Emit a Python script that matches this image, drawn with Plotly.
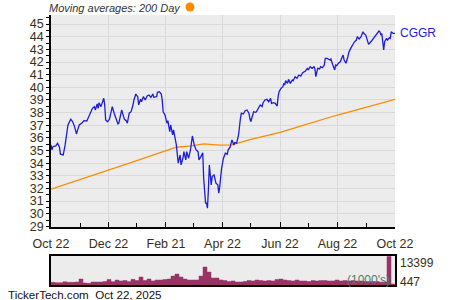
import pandas as pd
import plotly.graph_objects as go

# ---------------- data ----------------
price_dates = [
    "2024-10-22","2024-10-23","2024-10-24","2024-10-27","2024-10-29","2024-10-31","2024-11-01","2024-11-04",
    "2024-11-06","2024-11-08","2024-11-09","2024-11-12","2024-11-14","2024-11-16","2024-11-18","2024-11-19",
    "2024-11-21","2024-11-24","2024-11-26","2024-11-29","2024-12-01","2024-12-03","2024-12-05","2024-12-07",
    "2024-12-08","2024-12-10","2024-12-11","2024-12-12","2024-12-14","2024-12-17","2024-12-18","2024-12-19",
    "2024-12-21","2024-12-23","2024-12-25","2024-12-26","2024-12-28","2024-12-30","2025-01-01","2025-01-02",
    "2025-01-04","2025-01-05","2025-01-07","2025-01-08","2025-01-10","2025-01-11","2025-01-13","2025-01-15",
    "2025-01-17","2025-01-18","2025-01-20","2025-01-22","2025-01-23","2025-01-25","2025-01-26","2025-01-28",
    "2025-01-30","2025-02-01","2025-02-03","2025-02-05","2025-02-07","2025-02-08","2025-02-11","2025-02-12",
    "2025-02-14","2025-02-16","2025-02-17","2025-02-18","2025-02-20","2025-02-22","2025-02-23","2025-02-25",
    "2025-02-26","2025-02-28","2025-03-01","2025-03-03","2025-03-04","2025-03-06","2025-03-08","2025-03-09",
    "2025-03-11","2025-03-12","2025-03-14","2025-03-15","2025-03-17","2025-03-19","2025-03-20","2025-03-21",
    "2025-03-23","2025-03-25","2025-03-27","2025-03-28","2025-03-30","2025-04-01","2025-04-02","2025-04-04",
    "2025-04-05","2025-04-06","2025-04-07","2025-04-08","2025-04-10","2025-04-11","2025-04-13","2025-04-15",
    "2025-04-17","2025-04-18","2025-04-19","2025-04-21","2025-04-23","2025-04-25","2025-04-27","2025-04-28",
    "2025-04-30","2025-05-02","2025-05-04","2025-05-05","2025-05-07","2025-05-09","2025-05-11","2025-05-12",
    "2025-05-14","2025-05-16","2025-05-18","2025-05-20","2025-05-21","2025-05-22","2025-05-24","2025-05-25",
    "2025-05-27","2025-05-28","2025-05-30","2025-06-01","2025-06-03","2025-06-04","2025-06-06","2025-06-08",
    "2025-06-10","2025-06-12","2025-06-13","2025-06-15","2025-06-17","2025-06-19","2025-06-20","2025-06-21",
    "2025-06-23","2025-06-25","2025-06-26","2025-06-27","2025-06-28","2025-06-30","2025-07-01","2025-07-03",
    "2025-07-05","2025-07-06","2025-07-08","2025-07-10","2025-07-12","2025-07-14","2025-07-16","2025-07-19",
    "2025-07-21","2025-07-22","2025-07-24","2025-07-26","2025-07-28","2025-07-29","2025-07-30","2025-08-01",
    "2025-08-03","2025-08-04","2025-08-06","2025-08-08","2025-08-09","2025-08-11","2025-08-14","2025-08-15",
    "2025-08-17","2025-08-19","2025-08-20","2025-08-21","2025-08-23","2025-08-25","2025-08-27","2025-08-28",
    "2025-08-29","2025-08-31","2025-09-02","2025-09-03","2025-09-05","2025-09-07","2025-09-09","2025-09-11",
    "2025-09-12","2025-09-14","2025-09-16","2025-09-18","2025-09-19","2025-09-21","2025-09-23","2025-09-24",
    "2025-09-27","2025-09-29","2025-10-01","2025-10-03","2025-10-05","2025-10-06","2025-10-07","2025-10-08",
    "2025-10-10","2025-10-11","2025-10-13","2025-10-14","2025-10-16","2025-10-17","2025-10-18","2025-10-20",
    "2025-10-22",
]
price_values = [
    35.44, 35.05, 35.30, 35.36, 35.57, 35.26, 34.71, 34.65,
    35.44, 36.37, 37.02, 37.47, 37.28, 36.89, 36.31, 36.57,
    37.02, 37.20, 37.36, 37.34, 37.68, 38.03, 38.34, 38.47,
    38.21, 38.68, 38.34, 38.78, 38.47, 39.13, 38.60, 37.42,
    37.28, 37.47, 38.07, 38.47, 37.95, 37.42, 37.10, 37.16,
    37.81, 38.21, 37.68, 37.47, 37.34, 37.16, 37.95, 38.07,
    38.60, 39.00, 39.47, 39.26, 38.60, 39.05, 38.86, 39.26,
    39.00, 39.31, 39.39, 39.21, 39.47, 39.21, 39.26, 39.60,
    39.65, 39.47, 39.00, 38.07, 37.81, 37.16, 37.36, 36.49,
    37.02, 36.23, 36.63, 35.84, 35.44, 34.00, 34.65, 33.86,
    34.39, 34.91, 34.26, 34.91, 34.39, 35.05, 35.84, 36.15,
    35.44, 35.05, 34.91, 34.26, 34.52, 34.83, 32.81, 30.84,
    30.84, 30.44, 31.89, 33.86, 32.28, 32.94, 33.07, 32.42,
    32.28, 31.63, 32.10, 33.60, 34.39, 34.79, 34.71, 35.05,
    35.26, 35.84, 35.44, 35.63, 35.58, 36.23, 37.55, 37.95,
    37.89, 38.15, 38.21, 37.95, 37.55, 37.28, 37.81, 38.07,
    38.02, 38.07, 38.34, 38.60, 38.47, 38.78, 39.00, 39.05,
    38.86, 39.13, 38.73, 38.78, 38.73, 38.52, 39.26, 39.65,
    39.92, 40.05, 40.31, 40.18, 40.52, 40.31, 40.63, 40.31,
    40.58, 40.52, 40.84, 40.71, 40.97, 40.89, 41.15, 41.29,
    41.50, 41.37, 41.63, 41.50, 41.63, 41.50, 40.84, 41.50,
    41.45, 41.63, 41.55, 41.76, 42.29, 42.29, 42.16, 42.24,
    41.76, 41.37, 41.76, 41.71, 41.90, 42.02, 42.42, 42.55,
    42.16, 41.90, 42.42, 42.76, 43.08, 43.34, 43.60, 43.74,
    44.00, 43.82, 44.00, 44.39, 44.26, 44.13, 43.74, 43.40,
    43.66, 43.87, 44.13, 44.26, 44.45, 44.39, 44.13, 44.26,
    42.95, 43.60, 43.87, 43.74, 43.92, 43.87, 44.39, 44.26,
    44.26,
]

ma_dates = ["2024-10-22", "2024-12-21", "2025-01-14", "2025-02-18", "2025-03-04", "2025-03-20",
            "2025-04-02", "2025-04-19", "2025-05-02", "2025-05-20", "2025-06-23", "2025-07-19",
            "2025-08-21", "2025-10-22"]
ma_values = [31.94, 33.47, 34.02, 34.91, 35.26, 35.36, 35.52, 35.42, 35.44, 35.84, 36.45,
             37.04, 37.79, 39.05]

volume_values = [
    1250, 1100, 1100, 1500, 1250, 1250, 1400, 2800, 950, 800,
    1400, 1400, 1400, 1600, 2600, 1550, 2300, 1900, 2100, 1700,
    2650, 2100, 3750, 2100, 2800, 1900, 2350, 2350, 2600, 2800,
    4200, 5150, 3750, 2800, 2350, 2350, 2350, 4200, 8450, 6100,
    3300, 3300, 2350, 2100, 1650, 1900, 1400, 1400, 1650, 2100,
    1900, 2350, 2100, 1900, 2100, 1900, 2600, 2800, 2350, 2100,
    1900, 2350, 1900, 1900, 1650, 2100, 1900, 2100, 2100, 1900,
    1900, 2350, 1900, 2100, 1900, 2100, 1900, 1900, 1650, 1650,
    1650, 1650, 1400, 1400, 13399, 500,
]

tick_dates = ["2024-10-22", "2024-12-22", "2025-02-21", "2025-04-22", "2025-06-22",
              "2025-08-22", "2025-10-22"]
tick_labels = ["Oct 22", "Dec 22", "Feb 21", "Apr 22", "Jun 22", "Aug 22", "Oct 22"]
minor_dates = ["2024-11-22", "2025-01-21", "2025-03-22", "2025-05-22", "2025-07-22", "2025-09-22"]

start, end = "2024-10-22", "2025-10-22"
vol_edges = pd.date_range(start, end, periods=len(volume_values) + 1)
vol_x = list(vol_edges)
vol_y = volume_values + [volume_values[-1]]

# ---------------- figure ----------------
W, H = 450, 300
def px(x):
    return x / W
def py(y):
    return 1 - y / H

FONT = "Liberation Sans, Arial, sans-serif"
LABEL = "#3a2f12"

fig = go.Figure()
fig.add_trace(go.Scatter(x=ma_dates, y=ma_values, mode="lines",
                         line=dict(color="#ff8c00", width=1.3), xaxis="x", yaxis="y",
                         hoverinfo="skip"))
fig.add_trace(go.Scatter(x=pd.to_datetime(price_dates), y=price_values, mode="lines",
                         line=dict(color="#1c1cdc", width=1.3), xaxis="x", yaxis="y"))
fig.add_trace(go.Scatter(x=vol_x, y=vol_y, mode="lines", line=dict(color="#993366", width=0.5, shape="hv"),
                         fill="tozeroy", fillcolor="#993366", xaxis="x2", yaxis="y2"))

x_dom = [px(51), px(395)]
fig.update_layout(
    width=W, height=H, margin=dict(l=0, r=0, t=0, b=0, autoexpand=False),
    paper_bgcolor="white", plot_bgcolor="#ececec",
    showlegend=False,
    font=dict(family=FONT, size=12, color=LABEL),
    xaxis=dict(domain=x_dom, anchor="y", range=[start, end], type="date", automargin=False,
               tickvals=tick_dates, ticktext=tick_labels, ticks="inside", ticklen=5,
               ticklabelstandoff=4,
               tickcolor="black", showgrid=True, gridcolor="#d9d9d9", gridwidth=1,
               showline=True, linecolor="black", linewidth=1.5, zeroline=False,
               tickfont=dict(size=12.5, color=LABEL),
               minor=dict(tickvals=minor_dates, ticks="inside", ticklen=4, tickcolor="black",
                          showgrid=False)),
    yaxis=dict(domain=[py(227), py(15)], anchor="x", range=[28.95, 45.72], automargin=False,
               dtick=1, tick0=29, ticks="outside", ticklen=3, tickcolor="black",
               showgrid=True, gridcolor="#d9d9d9", gridwidth=1,
               showline=True, linecolor="black", linewidth=1.5, zeroline=False,
               tickfont=dict(size=12.5, color=LABEL),
               minor=dict(dtick=0.5, tick0=28.5, ticks="outside", ticklen=3,
                          tickcolor="black", showgrid=False)),
    xaxis2=dict(domain=x_dom, anchor="y2", range=[start, end], type="date", automargin=False,
                showticklabels=False, ticks="", showgrid=False, zeroline=False,
                showline=True, mirror=True, linecolor="black", linewidth=1.5),
    yaxis2=dict(domain=[py(285), py(256)], anchor="x2", range=[0, 13650], automargin=False,
                showticklabels=False, ticks="", showgrid=False, zeroline=False,
                showline=True, mirror=True, linecolor="black", linewidth=1.5),
)

annotations = [
    dict(x=px(115), y=py(8), text="<i>Moving averages: 200 Day</i>", showarrow=False,
         xref="paper", yref="paper", xanchor="center", yanchor="middle",
         font=dict(size=11, color="#333333")),
    dict(x=px(398), y=py(33), text="CGGR", showarrow=False, xref="paper", yref="paper",
         xanchor="left", yanchor="middle", font=dict(size=12, color="#1c1cdc")),
    dict(x=px(397.5), y=py(262.5), text="13399", showarrow=False, xref="paper", yref="paper",
         xanchor="left", yanchor="middle", font=dict(size=12, color=LABEL)),
    dict(x=px(397.5), y=py(281.5), text="447", showarrow=False, xref="paper", yref="paper",
         xanchor="left", yanchor="middle", font=dict(size=12, color=LABEL)),
    dict(x=px(392), y=py(279.5), text="(1000's)", showarrow=False, xref="paper", yref="paper",
         xanchor="right", yanchor="middle", font=dict(size=12, color="#4f7a66")),
    dict(x=px(6), y=py(294), text="TickerTech.com  Oct 22, 2025", showarrow=False,
         xref="paper", yref="paper", xanchor="left", yanchor="middle",
         font=dict(size=11.6, color="#111111")),
]
fig.update_layout(annotations=annotations)
fig.add_shape(type="circle", xref="paper", yref="paper",
              x0=px(185.5), x1=px(194.5), y0=py(11.5), y1=py(2.5),
              fillcolor="#ff8800", line=dict(width=0))

fig.write_html("out.html")
